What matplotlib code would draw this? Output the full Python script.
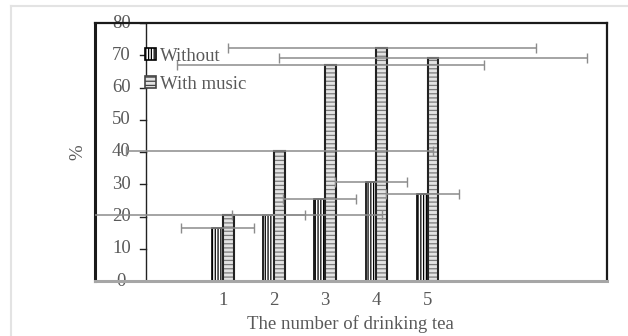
import matplotlib.pyplot as plt
import numpy as np
from matplotlib.lines import Line2D
from matplotlib.patches import Patch

# Bar heights (%) and horizontal error half-widths (in category units)
categories = ['1', '2', '3', '4', '5']
without = [16.5, 20.4, 25.5, 30.6, 26.9]
with_music = [20.4, 40.3, 67.1, 72.1, 69.0]
err_without = [0.71, 0.71, 0.71, 0.71, 0.71]
err_music = [3.0, 3.0, 3.0, 3.0, 3.0]
yticks = [0, 10, 20, 30, 40, 50, 60, 70, 80]

plt.rcParams['font.family'] = 'Liberation Serif'
plt.rcParams['hatch.linewidth'] = 0.9
text_gray = '#595959'
fs = 13.5

fig = plt.figure(figsize=(6.28, 3.36), dpi=100)
ax = fig.add_axes([94.7 / 628, 1 - 281 / 336, 512.3 / 628, 258 / 336])

x = np.arange(1, len(categories) + 1)
w = 0.21

# "Without" bars: vertical hatch
ax.bar(x - w / 2, without, w, color='white', edgecolor='black',
       hatch='||||||', linewidth=1.2, zorder=2, label='Without')
# "With music" bars: gray horizontal hatch, black outline drawn on top
ax.bar(x + w / 2, with_music, w, color='#e3e3e3', edgecolor='#7a7a7a',
       hatch='----', linewidth=0, zorder=2)
ax.bar(x + w / 2, with_music, w, fill=False, edgecolor='#222222',
       linewidth=1.5, zorder=3)

# horizontal error bars
ebkw = dict(fmt='none', ecolor='#8c8c8c', elinewidth=1.1, capsize=3.5,
            capthick=1.0, zorder=4)
ax.errorbar(x - w / 2, without, xerr=err_without, **ebkw)
ax.errorbar(x + w / 2, with_music, xerr=err_music, **ebkw)

ax.set_xlim(-1.5, 8.5)
ax.set_ylim(0, 80)

# outer frame
for side in ['top', 'left', 'right']:
    ax.spines[side].set_color('#1a1a1a')
    ax.spines[side].set_linewidth(1.6)
ax.spines['left'].set_linewidth(2.2)
ax.spines['bottom'].set_color('#a6a6a6')
ax.spines['bottom'].set_linewidth(2.2)
ax.spines['bottom'].set_zorder(5)

# inner value axis with ticks
ax.axvline(-0.5, color='#222222', linewidth=1.0, zorder=1)
for t in yticks:
    ax.plot([-0.61, -0.5], [t, t], color='#222222', linewidth=1.0,
            clip_on=False, zorder=1)
    ax.text(-0.98, t, str(t), ha='center', va='center', fontsize=fs,
            color=text_gray, zorder=0)

ax.set_yticks([])
ax.set_xticks(x)
ax.set_xticklabels(categories, fontsize=fs, color=text_gray)
ax.tick_params(axis='x', length=0, pad=8)
ax.set_xlabel('The number of drinking tea', fontsize=fs, color=text_gray,
              labelpad=4)
fig.text(78 / 628, 1 - 152 / 336, '%', rotation=90, ha='center',
         va='center', fontsize=fs, color=text_gray)

# legend entries
handles = [Patch(facecolor='white', edgecolor='black', hatch='||||||',
                 linewidth=1.2),
           Patch(facecolor='#e3e3e3', edgecolor='#444444', hatch='----',
                 linewidth=1.2)]
leg = ax.legend(handles, ['Without', 'With music'], loc='upper left',
                bbox_to_anchor=(0.099, 0.905), frameon=False,
                fontsize=fs, handlelength=0.58, handleheight=0.58,
                handletextpad=0.2, labelspacing=0.6, borderpad=0,
                borderaxespad=0)
for t in leg.get_texts():
    t.set_color(text_gray)

# light page border
fig.add_artist(Line2D([10.5 / 628, 1], [1 - 6 / 336, 1 - 6 / 336],
                      color='#e3e3e3', linewidth=1.5))
fig.add_artist(Line2D([10.5 / 628, 10.5 / 628], [0, 1 - 6 / 336],
                      color='#e3e3e3', linewidth=1.5))

plt.savefig('out.png', dpi=100)
